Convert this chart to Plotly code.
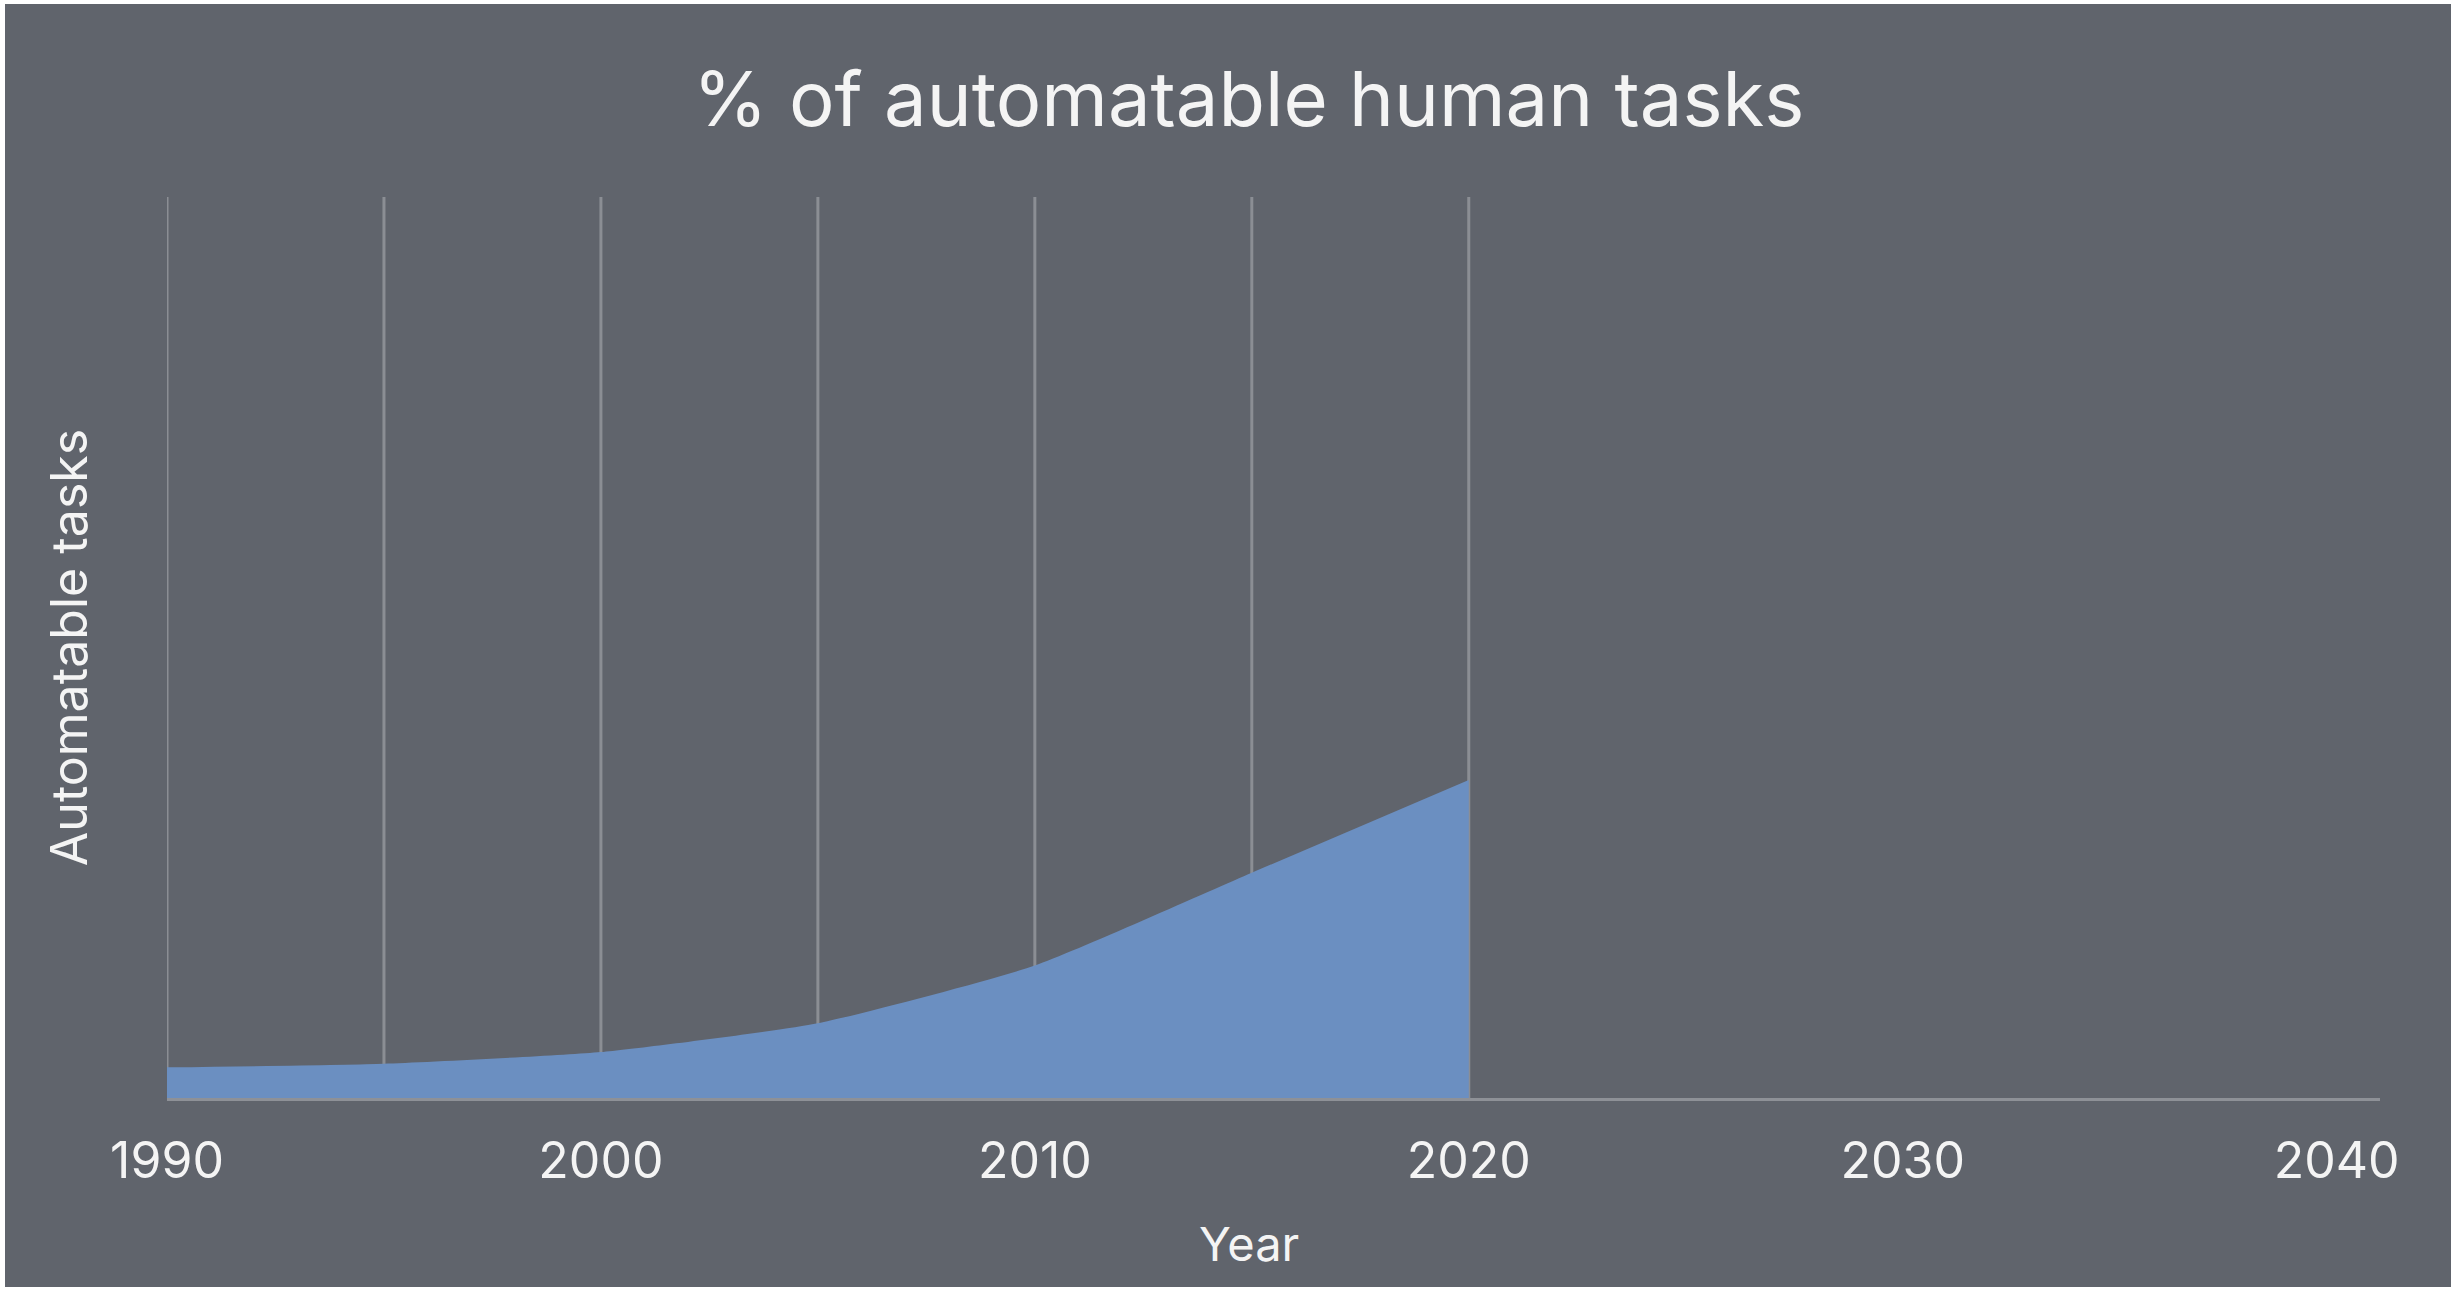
import plotly.graph_objects as go

# ---- data ----
years = [1990, 1995, 2000, 2005, 2010, 2015, 2020]
automatable_pct = [3.4, 3.8, 5.1, 8.3, 14.7, 25.0, 35.3]
grid_years = [1990, 1995, 2000, 2005, 2010, 2015, 2020]
tick_years = [1990, 2000, 2010, 2020, 2030, 2040]
tick_labels = ["1990", "2000", "2010", "2020", "2030", "2040"]

title_text = "% of automatable human tasks"
x_title = "Year"
y_title = "Automatable tasks"

# ---- style / layout ----
W, H = 2458, 1291
ML, MR, MT, MB = 167, 78, 197, 193
BG = "#60646c"
FILL = "#6b8fc1"
GRID = "#8b8e94"
TEXT = "#f4f4f4"
FONT = "Inter, 'Liberation Sans', sans-serif"

pw = W - ML - MR
ph = H - MT - MB
# white border around the gray card (pixels)
bl, bt, br, bb = 5, 4, 7, 4

fig = go.Figure()
fig.add_trace(go.Scatter(
    x=years, y=automatable_pct,
    mode="lines",
    line=dict(width=0, color=FILL, shape="spline", smoothing=0.5),
    fill="tozeroy", fillcolor=FILL,
    hoverinfo="skip", showlegend=False,
))

shapes = [dict(
    type="rect", xref="paper", yref="paper", layer="below",
    x0=(bl - ML) / pw, x1=(W - br - ML) / pw,
    y0=-(MB - bb) / ph, y1=1 + (MT - bt) / ph,
    fillcolor=BG, line=dict(width=0),
)]
for gy in grid_years:
    shapes.append(dict(
        type="line", xref="x", yref="y", layer="below",
        x0=gy, x1=gy, y0=0, y1=100,
        line=dict(color=GRID, width=3),
    ))

annotations = [dict(
    text=x_title, xref="paper", yref="paper",
    x=(1249 - ML) / pw, y=-(1243 - (H - MB)) / ph,
    xanchor="center", yanchor="middle", showarrow=False,
    font=dict(size=47, color=TEXT),
)]

fig.update_layout(
    width=W, height=H,
    margin=dict(l=ML, r=MR, t=MT, b=MB),
    paper_bgcolor="white",
    plot_bgcolor="rgba(0,0,0,0)",
    font=dict(family=FONT, color=TEXT, size=48),
    title=dict(text=title_text, x=0.508, xanchor="center",
               y=1 - 99 / H, yanchor="middle",
               font=dict(size=76, color=TEXT)),
    shapes=shapes,
    annotations=annotations,
    showlegend=False,
)
fig.update_xaxes(
    range=[1990, 2041], tickvals=tick_years, ticktext=tick_labels,
    showgrid=False, zeroline=False, ticks="",
    showline=True, linecolor="#8e9197", linewidth=3,
    ticklabelstandoff=17,
    tickfont=dict(size=50, color=TEXT),
)
fig.update_yaxes(
    range=[0, 100], showgrid=False, zeroline=False, showline=False,
    showticklabels=False, ticks="",
    title=dict(text=y_title, standoff=62, font=dict(size=50, color=TEXT)),
)

fig.write_html("out.html")
